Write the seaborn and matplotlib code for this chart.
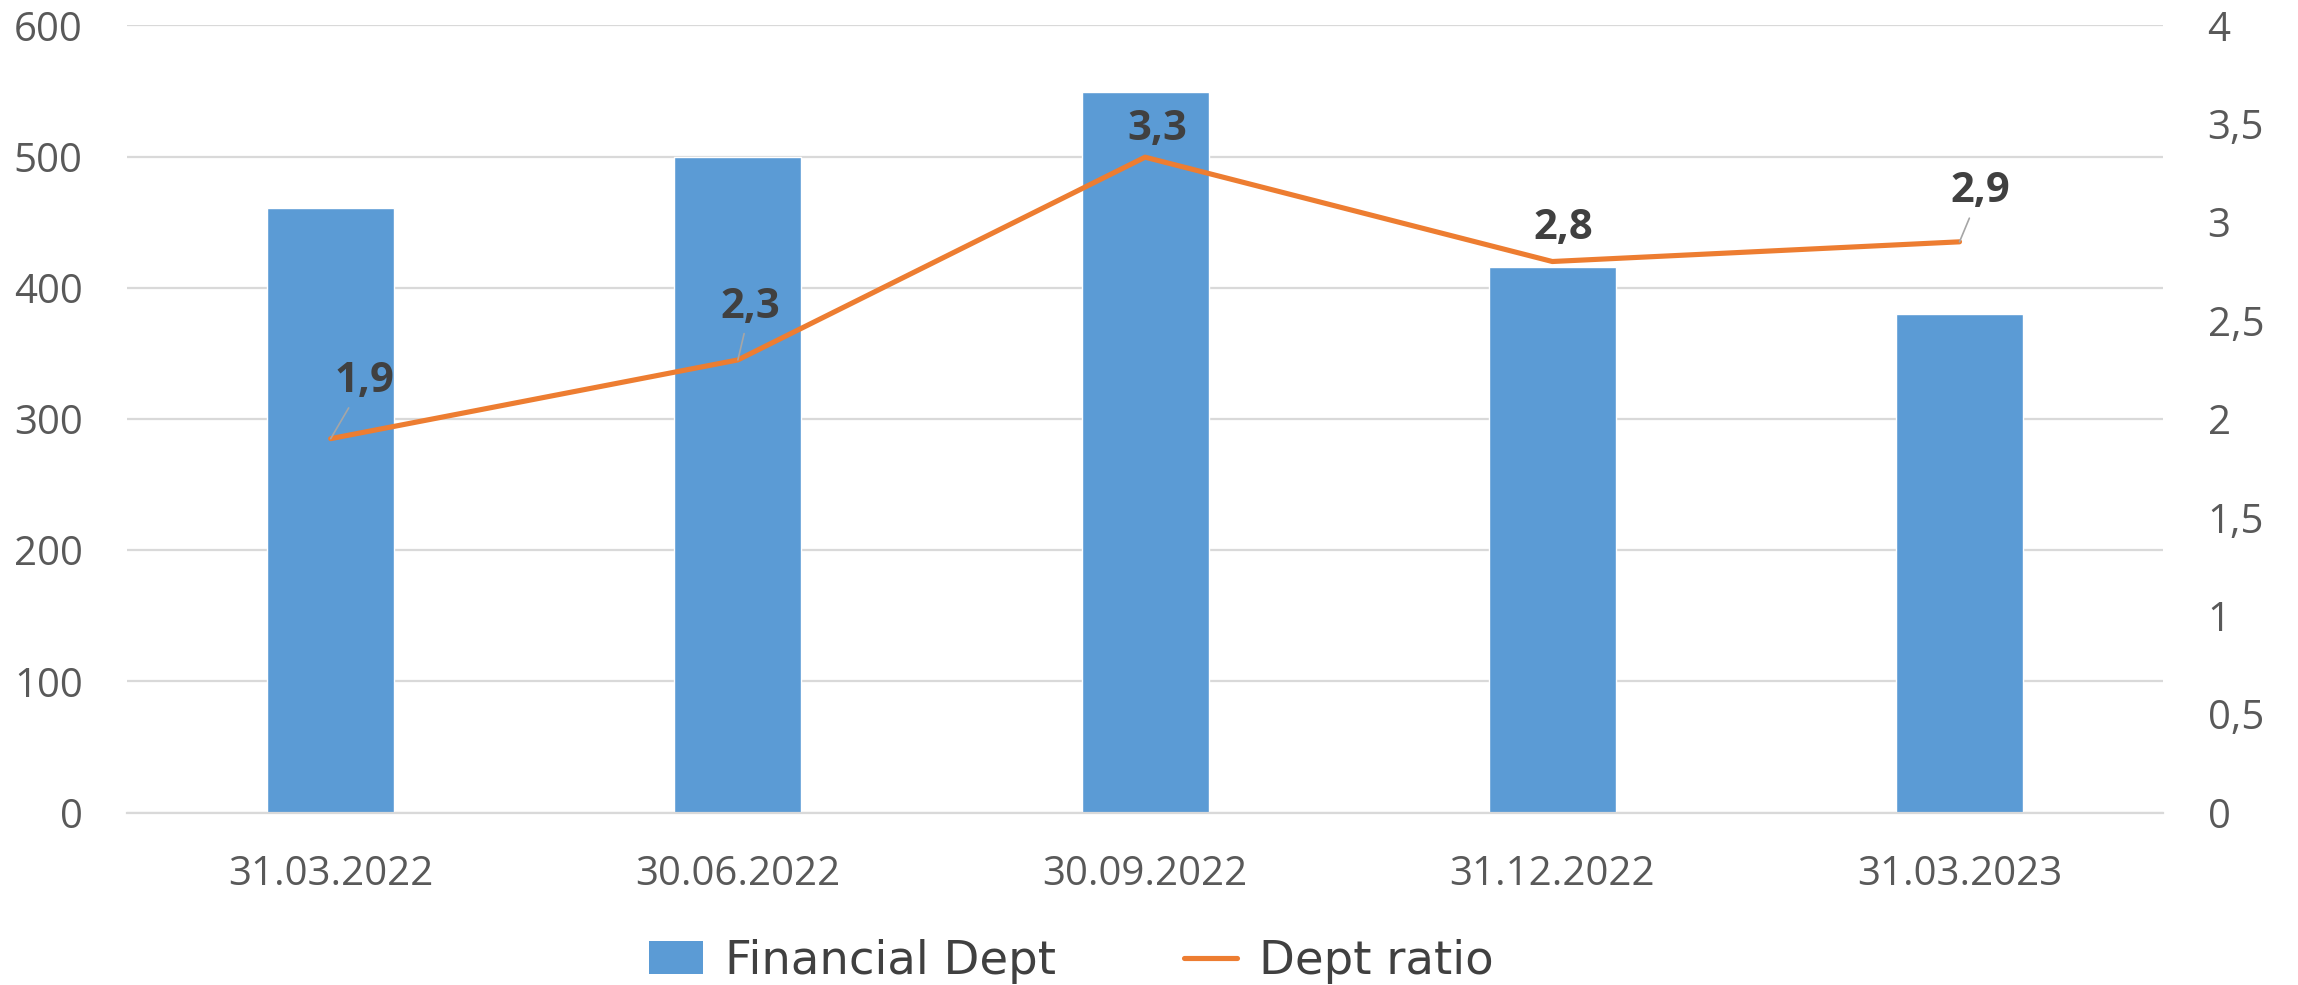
import numpy as np
import pandas as pd
import matplotlib
matplotlib.use("Agg")
import matplotlib.pyplot as plt
from matplotlib.ticker import FuncFormatter, FixedLocator
from matplotlib.patches import Patch
from matplotlib.lines import Line2D
import seaborn as sns

# ---- data ----
categories = ["31.03.2022", "30.06.2022", "30.09.2022", "31.12.2022", "31.03.2023"]
financial_dept = [461, 500, 549, 416, 380]
dept_ratio = [1.9, 2.3, 3.33, 2.8, 2.9]
ratio_labels = ["1,9", "2,3", "3,3", "2,8", "2,9"]
left_ticks = [0, 100, 200, 300, 400, 500, 600]
right_ticks = [0, 0.5, 1, 1.5, 2, 2.5, 3, 3.5, 4]

# ---- layout (label offsets in points, leader line on/off) ----
label_offsets = [(24, 41), (9, 38), (9, 20), (8, 24), (15, 36)]
label_leader = [True, True, False, False, True]

BAR = "#5B9BD5"
LINE = "#ED7D31"
GRID = "#D9D9D9"
TXT = "#595959"

sns.set_style("white")
plt.rcParams["font.family"] = ["Open Sans", "DejaVu Sans"]

fig = plt.figure(figsize=(22.98, 9.85), dpi=100)
ax = fig.add_axes([0.0553, 0.175, 0.8860, 0.7993])

df = pd.DataFrame({"date": categories, "value": financial_dept})
sns.barplot(data=df, x="date", y="value", color=BAR, saturation=1,
            width=0.312, ax=ax, zorder=2)
ax.set_xlim(-0.5, len(categories) - 0.5)
ax.set_ylim(0, 600)
ax.set_yticks(left_ticks)
ax.set_xlabel("")
ax.set_ylabel("")
ax.set_axisbelow(True)
ax.yaxis.grid(True, color=GRID, linewidth=1.6)
ax.xaxis.grid(False)
for s in ["top", "left", "right"]:
    ax.spines[s].set_visible(False)
ax.spines["bottom"].set_color(GRID)
ax.spines["bottom"].set_linewidth(1.6)
ax.tick_params(axis="y", length=0, pad=32, labelsize=29, labelcolor=TXT)
ax.tick_params(axis="x", which="major", length=0, pad=30, labelsize=29, labelcolor=TXT)
ax.xaxis.set_minor_locator(FixedLocator(np.arange(-0.5, len(categories), 1.0)))
ax.tick_params(axis="x", which="minor", length=11, width=1.6, color=GRID, direction="out")

ax2 = ax.twinx()
ldf = pd.DataFrame({"pos": np.arange(len(categories)), "ratio": dept_ratio})
sns.lineplot(data=ldf, x="pos", y="ratio", color=LINE, linewidth=3.7, ax=ax2,
             solid_capstyle="round", solid_joinstyle="round")
ax2.set_xlim(-0.5, len(categories) - 0.5)
ax2.set_ylim(0, 4)
ax2.set_yticks(right_ticks)
ax2.yaxis.set_major_formatter(FuncFormatter(lambda v, p: f"{v:g}".replace(".", ",")))
ax2.set_ylabel("")
ax2.set_xlabel("")
for s in ["top", "left", "right", "bottom"]:
    ax2.spines[s].set_visible(False)
ax2.tick_params(axis="y", length=0, pad=32, labelsize=29, labelcolor=TXT)
ax2.grid(False)

for i, (v, lab) in enumerate(zip(dept_ratio, ratio_labels)):
    dx, dy = label_offsets[i]
    kw = {}
    if label_leader[i]:
        kw["arrowprops"] = dict(arrowstyle="-", color="#A6A6A6", lw=1.2,
                                shrinkA=2, shrinkB=0)
    ax2.annotate(lab, xy=(i, v), xytext=(dx, dy), textcoords="offset points",
                 ha="center", va="center", fontsize=30, fontweight="bold",
                 color="#404040", **kw)

handles = [Patch(facecolor=BAR, edgecolor="none", label="Financial Dept"),
           Line2D([0], [0], color=LINE, linewidth=3.7, label="Dept ratio")]
leg = fig.legend(handles=handles, loc="center", bbox_to_anchor=(0.4663, 0.024),
                 ncol=2, frameon=False, handlelength=1.15, handleheight=0.7,
                 handletextpad=0.47, columnspacing=2.75,
                 prop={"family": ["DejaVu Sans"], "size": 33.5})
for t in leg.get_texts():
    t.set_color("#404040")

fig.savefig("out.png", dpi=100)
